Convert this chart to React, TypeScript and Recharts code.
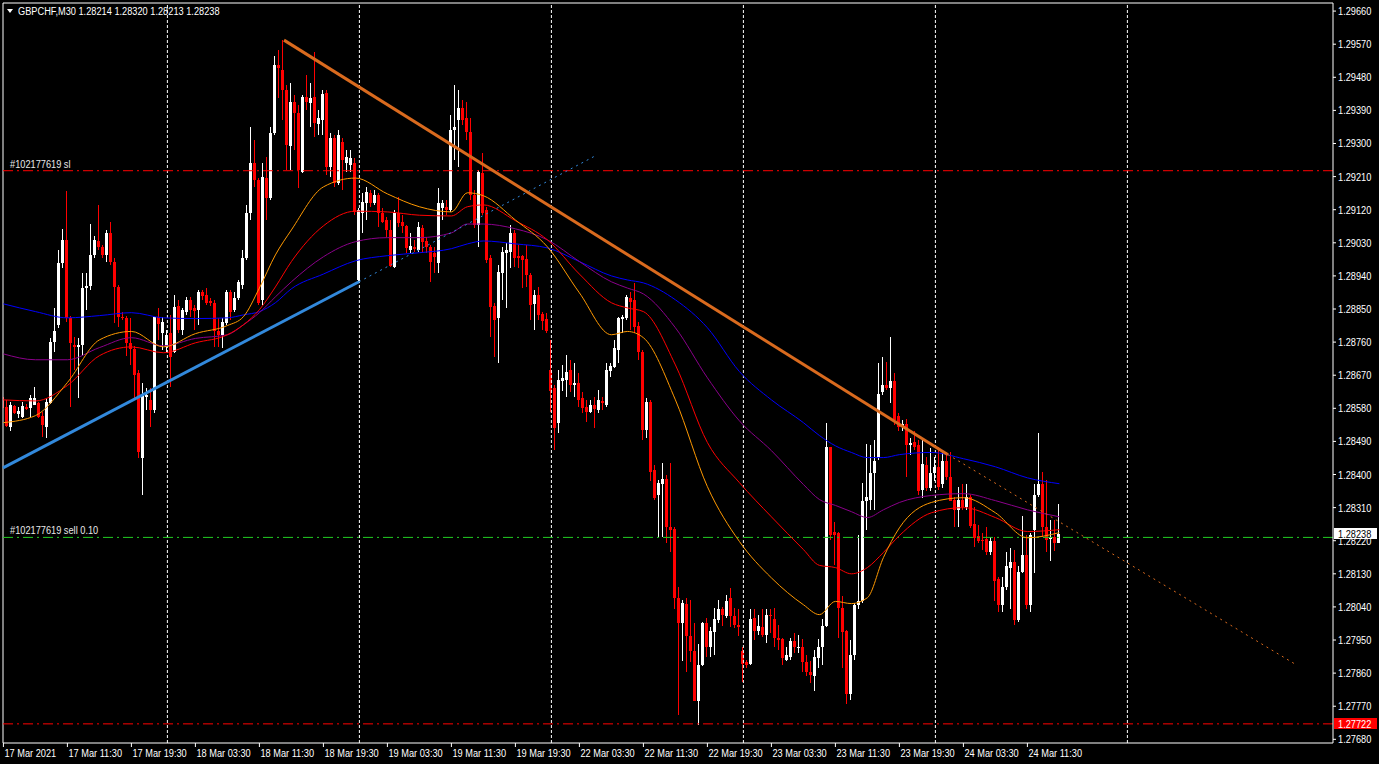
import { Bar, ComposedChart, Line, ReferenceLine, XAxis, YAxis } from 'recharts';

const FONT = '"Liberation Sans", Arial, sans-serif';
const SX = 0.84; // horizontal squeeze to mimic the narrow terminal font

// GBPCHF M30, bar 0 = 17 Mar 03:30, bar 264 = 24 Mar 15:30
const openPrices = [
  1.28612, 1.28584, 1.28530, 1.28587, 1.28565, 1.28557, 1.28584, 1.28581, 1.28589, 1.28595,
  1.28560, 1.28530, 1.28595, 1.28761, 1.28807, 1.28976, 1.29038, 1.28826, 1.28752, 1.28747,
  1.28752, 1.28907, 1.28913, 1.28997, 1.29035, 1.29019, 1.28997, 1.29057, 1.28979, 1.28910,
  1.28829, 1.28826, 1.28758, 1.28742, 1.28677, 1.28446, 1.28612, 1.28603, 1.28576, 1.28829,
  1.28786, 1.28747, 1.28786, 1.28734, 1.28859, 1.28794, 1.28843, 1.28875, 1.28853, 1.28848,
  1.28897, 1.28888, 1.28872, 1.28867, 1.28791, 1.28780, 1.28813, 1.28897, 1.28848, 1.28880,
  1.28915, 1.28989, 1.29111, 1.29247, 1.29201, 1.28875, 1.29206, 1.29152, 1.29329, 1.29513,
  1.29500, 1.29445, 1.29294, 1.29413, 1.29383, 1.29223, 1.29426, 1.29410, 1.29426, 1.29353,
  1.29364, 1.29437, 1.29236, 1.29315, 1.29193, 1.29305, 1.29247, 1.29241, 1.29247, 1.28929,
  1.29111, 1.29139, 1.29166, 1.29139, 1.29160, 1.29111, 1.29092, 1.29065, 1.28965, 1.29111,
  1.29087, 1.29076, 1.29011, 1.29019, 1.29011, 1.29070, 1.29035, 1.29019, 1.29003, 1.28976,
  1.29125, 1.29128, 1.29119, 1.29337, 1.29364, 1.29396, 1.29369, 1.29332, 1.29160, 1.29079,
  1.29220, 1.29119, 1.28989, 1.28859, 1.28826, 1.28948, 1.29003, 1.29006, 1.29057, 1.28995,
  1.28995, 1.28987, 1.28942, 1.28864, 1.28888, 1.28837, 1.28824, 1.28685, 1.28636, 1.28541,
  1.28653, 1.28658, 1.28685, 1.28644, 1.28650, 1.28609, 1.28584, 1.28571, 1.28589, 1.28576,
  1.28600, 1.28589, 1.28682, 1.28693, 1.28739, 1.28824, 1.28826, 1.28880, 1.28875, 1.28805,
  1.28734, 1.28522, 1.28598, 1.28413, 1.28343, 1.28373, 1.28389, 1.28258, 1.28253, 1.28065,
  1.27997, 1.28049, 1.27962, 1.27919, 1.27783, 1.27883, 1.27997, 1.27932, 1.27973, 1.28005,
  1.28035, 1.28016, 1.28063, 1.28014, 1.27992, 1.27921, 1.27889, 1.27886, 1.28011, 1.27975,
  1.27986, 1.27964, 1.28019, 1.28008, 1.27956, 1.27954, 1.27897, 1.27905, 1.27946, 1.27930,
  1.27932, 1.27889, 1.27862, 1.27851, 1.27902, 1.27932, 1.27989, 1.28476, 1.28245, 1.28242,
  1.28038, 1.27975, 1.27802, 1.27908, 1.28044, 1.28055, 1.28327, 1.28332, 1.28403, 1.28446,
  1.28625, 1.28644, 1.28636, 1.28653, 1.28560, 1.28530, 1.28538, 1.28481, 1.28489, 1.28481,
  1.28359, 1.28427, 1.28364, 1.28403, 1.28421, 1.28373, 1.28438, 1.28394, 1.28332, 1.28304,
  1.28332, 1.28313, 1.28340, 1.28266, 1.28234, 1.28223, 1.28226, 1.28188, 1.28220, 1.28117,
  1.28044, 1.28095, 1.28147, 1.28161, 1.28005, 1.28136, 1.28182, 1.28046, 1.28250, 1.28343,
  1.28373, 1.28258, 1.28226, 1.28231, 1.28214,
];

const highPrices = [
  1.28677, 1.28603, 1.28598, 1.28589, 1.28584, 1.28598, 1.28592, 1.28615, 1.28639, 1.28598,
  1.28571, 1.28607, 1.28770, 1.28853, 1.29011, 1.29068, 1.29171, 1.28832, 1.28775, 1.28772,
  1.28948, 1.28948, 1.29081, 1.29049, 1.29133, 1.29024, 1.29065, 1.29087, 1.28989, 1.28915,
  1.28843, 1.28832, 1.28826, 1.28750, 1.28685, 1.28650, 1.28636, 1.28636, 1.28829, 1.28853,
  1.28829, 1.28794, 1.28834, 1.28888, 1.28875, 1.28853, 1.28883, 1.28883, 1.28861, 1.28902,
  1.28902, 1.28907, 1.28880, 1.28875, 1.28826, 1.28826, 1.28902, 1.28902, 1.28897, 1.28929,
  1.29011, 1.29133, 1.29345, 1.29310, 1.29206, 1.29247, 1.29263, 1.29345, 1.29538, 1.29554,
  1.29581, 1.29459, 1.29465, 1.29431, 1.29404, 1.29431, 1.29486, 1.29465, 1.29549, 1.29391,
  1.29445, 1.29445, 1.29329, 1.29323, 1.29337, 1.29315, 1.29282, 1.29282, 1.29260, 1.29125,
  1.29166, 1.29182, 1.29174, 1.29174, 1.29166, 1.29125, 1.29100, 1.29092, 1.29119, 1.29155,
  1.29105, 1.29079, 1.29057, 1.29038, 1.29087, 1.29079, 1.29046, 1.29024, 1.29019, 1.29179,
  1.29147, 1.29147, 1.29377, 1.29459, 1.29445, 1.29418, 1.29413, 1.29369, 1.29174, 1.29228,
  1.29274, 1.29128, 1.28997, 1.28867, 1.28970, 1.29019, 1.29030, 1.29079, 1.29065, 1.29024,
  1.28997, 1.29024, 1.28948, 1.28902, 1.28910, 1.28843, 1.28840, 1.28766, 1.28644, 1.28685,
  1.28698, 1.28725, 1.28712, 1.28704, 1.28677, 1.28623, 1.28603, 1.28603, 1.28612, 1.28631,
  1.28612, 1.28704, 1.28704, 1.28766, 1.28829, 1.28834, 1.28888, 1.28897, 1.28921, 1.28816,
  1.28739, 1.28609, 1.28603, 1.28427, 1.28386, 1.28432, 1.28400, 1.28432, 1.28258, 1.28095,
  1.28060, 1.28065, 1.28060, 1.27997, 1.27938, 1.28000, 1.28011, 1.27986, 1.28038, 1.28060,
  1.28041, 1.28073, 1.28092, 1.28038, 1.28033, 1.27932, 1.27897, 1.28035, 1.28033, 1.28019,
  1.28035, 1.28033, 1.28033, 1.28038, 1.27992, 1.27956, 1.27932, 1.27956, 1.27970, 1.27964,
  1.27954, 1.27910, 1.27892, 1.27924, 1.27954, 1.28008, 1.28541, 1.28476, 1.28272, 1.28245,
  1.28071, 1.27978, 1.27951, 1.28052, 1.28236, 1.28378, 1.28484, 1.28481, 1.28495, 1.28704,
  1.28720, 1.28706, 1.28775, 1.28677, 1.28568, 1.28549, 1.28552, 1.28500, 1.28517, 1.28495,
  1.28495, 1.28448, 1.28473, 1.28448, 1.28476, 1.28462, 1.28460, 1.28460, 1.28340, 1.28367,
  1.28373, 1.28373, 1.28345, 1.28313, 1.28264, 1.28242, 1.28258, 1.28231, 1.28231, 1.28122,
  1.28122, 1.28188, 1.28199, 1.28196, 1.28150, 1.28288, 1.28236, 1.28242, 1.28373, 1.28514,
  1.28408, 1.28386, 1.28277, 1.28277, 1.28320,
];

const lowPrices = [
  1.28576, 1.28530, 1.28519, 1.28565, 1.28554, 1.28554, 1.28576, 1.28557, 1.28589, 1.28554,
  1.28503, 1.28500, 1.28592, 1.28734, 1.28799, 1.28962, 1.28816, 1.28584, 1.28685, 1.28609,
  1.28725, 1.28848, 1.28902, 1.28989, 1.29011, 1.28989, 1.28979, 1.28970, 1.28813, 1.28802,
  1.28821, 1.28723, 1.28698, 1.28609, 1.28446, 1.28345, 1.28576, 1.28530, 1.28568, 1.28766,
  1.28739, 1.28734, 1.28639, 1.28731, 1.28786, 1.28780, 1.28834, 1.28829, 1.28794, 1.28807,
  1.28875, 1.28861, 1.28859, 1.28747, 1.28747, 1.28744, 1.28807, 1.28821, 1.28843, 1.28875,
  1.28905, 1.28984, 1.29092, 1.29182, 1.28861, 1.28861, 1.29092, 1.29147, 1.29323, 1.29423,
  1.29364, 1.29228, 1.29228, 1.29282, 1.29179, 1.29220, 1.29391, 1.29345, 1.29318, 1.29323,
  1.29323, 1.29214, 1.29209, 1.29182, 1.29187, 1.29174, 1.29223, 1.29223, 1.29105, 1.28921,
  1.29057, 1.29092, 1.29128, 1.29133, 1.29073, 1.29084, 1.29046, 1.28965, 1.28962, 1.29073,
  1.29057, 1.29003, 1.29003, 1.29006, 1.29006, 1.29003, 1.29003, 1.28924, 1.28948, 1.28948,
  1.29092, 1.29105, 1.29114, 1.29255, 1.29236, 1.29350, 1.29310, 1.29147, 1.29070, 1.29019,
  1.29105, 1.28976, 1.28775, 1.28720, 1.28704, 1.28875, 1.28853, 1.28962, 1.28965, 1.28962,
  1.28907, 1.28910, 1.28821, 1.28794, 1.28821, 1.28794, 1.28786, 1.28571, 1.28468, 1.28514,
  1.28626, 1.28612, 1.28623, 1.28612, 1.28584, 1.28568, 1.28544, 1.28568, 1.28527, 1.28568,
  1.28576, 1.28584, 1.28666, 1.28690, 1.28704, 1.28786, 1.28821, 1.28794, 1.28786, 1.28712,
  1.28495, 1.28500, 1.28381, 1.28332, 1.28231, 1.28231, 1.28215, 1.28188, 1.28033, 1.27747,
  1.27892, 1.27862, 1.27889, 1.27783, 1.27720, 1.27878, 1.27903, 1.27905, 1.27910, 1.27997,
  1.27989, 1.28011, 1.27986, 1.27984, 1.27962, 1.27837, 1.27875, 1.27881, 1.27951, 1.27964,
  1.27959, 1.27943, 1.27970, 1.27932, 1.27924, 1.27881, 1.27892, 1.27897, 1.27916, 1.27916,
  1.27862, 1.27851, 1.27834, 1.27812, 1.27875, 1.27883, 1.27986, 1.28223, 1.28155, 1.27956,
  1.27875, 1.27777, 1.27788, 1.27897, 1.28033, 1.28052, 1.28250, 1.28304, 1.28304, 1.28440,
  1.28617, 1.28631, 1.28595, 1.28535, 1.28517, 1.28517, 1.28394, 1.28454, 1.28468, 1.28345,
  1.28337, 1.28354, 1.28354, 1.28381, 1.28359, 1.28364, 1.28386, 1.28327, 1.28258, 1.28258,
  1.28304, 1.28304, 1.28255, 1.28204, 1.28215, 1.28196, 1.28182, 1.28180, 1.28055, 1.28027,
  1.28027, 1.28087, 1.28033, 1.27992, 1.28000, 1.28131, 1.28033, 1.28025, 1.28133, 1.28340,
  1.28231, 1.28188, 1.28166, 1.28191, 1.28213,
];

const closePrices = [
  1.28581, 1.28533, 1.28589, 1.28568, 1.28573, 1.28587, 1.28579, 1.28609, 1.28607, 1.28557,
  1.28535, 1.28598, 1.28761, 1.28789, 1.28976, 1.29038, 1.28826, 1.28758, 1.28747, 1.28752,
  1.28907, 1.28913, 1.28997, 1.29038, 1.29019, 1.28997, 1.29057, 1.28979, 1.28910, 1.28829,
  1.28826, 1.28758, 1.28742, 1.28671, 1.28460, 1.28617, 1.28617, 1.28576, 1.28829, 1.28810,
  1.28816, 1.28780, 1.28720, 1.28856, 1.28794, 1.28848, 1.28875, 1.28848, 1.28845, 1.28897,
  1.28886, 1.28867, 1.28867, 1.28791, 1.28780, 1.28816, 1.28897, 1.28843, 1.28880, 1.28924,
  1.28989, 1.29111, 1.29247, 1.29201, 1.28867, 1.29209, 1.29152, 1.29329, 1.29513, 1.29505,
  1.29445, 1.29296, 1.29413, 1.29383, 1.29228, 1.29426, 1.29413, 1.29423, 1.29356, 1.29369,
  1.29434, 1.29236, 1.29315, 1.29193, 1.29323, 1.29255, 1.29263, 1.29260, 1.29114, 1.29119,
  1.29142, 1.29169, 1.29139, 1.29160, 1.29111, 1.29087, 1.29065, 1.28968, 1.29111, 1.29084,
  1.29076, 1.29016, 1.29022, 1.29014, 1.29073, 1.29033, 1.29019, 1.28979, 1.28992, 1.29139,
  1.29139, 1.29119, 1.29337, 1.29345, 1.29396, 1.29364, 1.29332, 1.29160, 1.29079, 1.29223,
  1.29111, 1.28984, 1.28856, 1.28821, 1.28951, 1.29006, 1.29011, 1.29057, 1.28989, 1.28989,
  1.28984, 1.28942, 1.28861, 1.28888, 1.28834, 1.28818, 1.28789, 1.28626, 1.28527, 1.28658,
  1.28663, 1.28680, 1.28644, 1.28650, 1.28603, 1.28581, 1.28571, 1.28589, 1.28579, 1.28603,
  1.28595, 1.28685, 1.28696, 1.28745, 1.28826, 1.28829, 1.28883, 1.28870, 1.28802, 1.28734,
  1.28522, 1.28598, 1.28408, 1.28337, 1.28378, 1.28389, 1.28258, 1.28250, 1.28063, 1.27997,
  1.28052, 1.27962, 1.27919, 1.27783, 1.27883, 1.27997, 1.27932, 1.27975, 1.28008, 1.28035,
  1.28019, 1.28057, 1.28014, 1.27992, 1.27986, 1.27886, 1.27881, 1.28008, 1.27975, 1.27989,
  1.27964, 1.28019, 1.28014, 1.27956, 1.27951, 1.27900, 1.27908, 1.27948, 1.27932, 1.27932,
  1.27889, 1.27862, 1.27856, 1.27905, 1.27932, 1.27989, 1.28476, 1.28236, 1.28236, 1.28038,
  1.27973, 1.27802, 1.27908, 1.28044, 1.28055, 1.28329, 1.28340, 1.28403, 1.28438, 1.28620,
  1.28644, 1.28636, 1.28653, 1.28549, 1.28530, 1.28538, 1.28481, 1.28487, 1.28476, 1.28356,
  1.28429, 1.28364, 1.28403, 1.28421, 1.28367, 1.28438, 1.28394, 1.28329, 1.28304, 1.28332,
  1.28313, 1.28340, 1.28261, 1.28228, 1.28218, 1.28218, 1.28188, 1.28220, 1.28111, 1.28044,
  1.28095, 1.28150, 1.28161, 1.28005, 1.28136, 1.28180, 1.28046, 1.28236, 1.28345, 1.28375,
  1.28258, 1.28223, 1.28231, 1.28215, 1.28238,
];

// one label every 16 bars
const timeLabels = [
  '17 Mar 2021', '17 Mar 11:30', '17 Mar 19:30', '18 Mar 03:30', '18 Mar 11:30',
  '18 Mar 19:30', '19 Mar 03:30', '19 Mar 11:30', '19 Mar 19:30', '22 Mar 03:30',
  '22 Mar 11:30', '22 Mar 19:30', '23 Mar 03:30', '23 Mar 11:30', '23 Mar 19:30',
  '24 Mar 03:30', '24 Mar 11:30',
];

const priceTicks = [
  1.2768, 1.2777, 1.2786, 1.2795, 1.2804, 1.2813, 1.2822, 1.2831, 1.284, 1.2849, 1.2858, 1.2867,
  1.2876, 1.2885, 1.2894, 1.2903, 1.2912, 1.2921, 1.293, 1.2939, 1.2948, 1.2957, 1.2966,
];

// moving averages at these bars
const maBars = [
  0, 8, 16, 24, 32, 40, 48, 56, 60, 64, 68, 72, 80, 88, 96, 104, 112, 116, 120, 128, 136,
  144, 152, 156, 160, 168, 176, 184, 192, 200, 204, 208, 212, 216, 220, 224, 232, 240, 248, 256, 264,
];
const maOrange = [
  1.28541, 1.28560, 1.28650, 1.28766, 1.28789, 1.28747, 1.28783, 1.28805, 1.28829, 1.28907, 1.28997,
  1.29065, 1.29182, 1.29206, 1.29163, 1.29128, 1.29114, 1.29166, 1.29158, 1.29092, 1.29019,
  1.28894, 1.28780, 1.28789, 1.28772, 1.28603, 1.28367, 1.28218, 1.28119, 1.28046, 1.28019,
  1.28055, 1.28049, 1.28065, 1.28174, 1.28255, 1.28324, 1.28337, 1.28296, 1.28228, 1.28242,
];
const maRed = [
  1.28603, 1.28600, 1.28642, 1.28723, 1.28747, 1.28731, 1.28758, 1.28780, 1.28807, 1.28848, 1.28910,
  1.28979, 1.29076, 1.29116, 1.29114, 1.29105, 1.29103, 1.29128, 1.29133, 1.29090, 1.29038,
  1.28945, 1.28867, 1.28853, 1.28843, 1.28698, 1.28487, 1.28378, 1.28285, 1.28196, 1.28153,
  1.28147, 1.28130, 1.28147, 1.28188, 1.28234, 1.28296, 1.28310, 1.28283, 1.28245, 1.28250,
];
const maPurple = [
  1.28728, 1.28712, 1.28712, 1.28745, 1.28772, 1.28750, 1.28770, 1.28780, 1.28807, 1.28840, 1.28883,
  1.28924, 1.28992, 1.29033, 1.29044, 1.29044, 1.29057, 1.29081, 1.29081, 1.29068, 1.29038,
  1.28979, 1.28924, 1.28907, 1.28891, 1.28799, 1.28663, 1.28546, 1.28465, 1.28373, 1.28332,
  1.28316, 1.28299, 1.28283, 1.28304, 1.28324, 1.28343, 1.28348, 1.28329, 1.28304, 1.28285,
];
const maBlue = [
  1.28864, 1.28843, 1.28826, 1.28832, 1.28840, 1.28826, 1.28824, 1.28826, 1.28834, 1.28843, 1.28867,
  1.28905, 1.28945, 1.28981, 1.28995, 1.29003, 1.29014, 1.29027, 1.29035, 1.29027, 1.29016,
  1.28979, 1.28940, 1.28929, 1.28921, 1.28875, 1.28799, 1.28680, 1.28603, 1.28541, 1.28506,
  1.28478, 1.28460, 1.28446, 1.28446, 1.28454, 1.28460, 1.28443, 1.28421, 1.28391, 1.28375,
];

// bars where a new day starts (vertical grid)
const dayStarts = [41, 89, 137, 185, 233, 281];

// drawn objects, as [bar, price]
const orangeTrend = [[70.15, 1.29581], [236.15, 1.28454]];
const orangeRay = [[236.15, 1.28454], [323.15, 1.27883]];
const blueTrend = [[-0.1, 1.28418], [88.9, 1.28924]];
const blueRay = [[88.9, 1.28924], [148.4, 1.29269]];

const slPrice = 1.29226;
const entryPrice = 1.28229;
const bidPrice = 1.28238;
const lowLinePrice = 1.27722;

const X_MIN = -0.1;
const X_MAX = 332.4;
const Y_MIN = 1.2767;
const Y_MAX = 1.29682;

const CHART_W = 1379;
const CHART_H = 764;
const MARGIN = { top: 3, right: 0, bottom: 0, left: 3 };
const X_AXIS_H = 21;
const Y_AXIS_W = 46;
const PLOT_TOP = MARGIN.top;
const PLOT_BOTTOM = CHART_H - X_AXIS_H;
const PLOT_RIGHT = CHART_W - Y_AXIS_W;

const candles = openPrices.map((o, i) => ({
  i,
  o,
  h: highPrices[i],
  l: lowPrices[i],
  c: closePrices[i],
  range: [lowPrices[i], highPrices[i]],
}));

const maData = maBars.map((i, k) => ({
  i,
  orange: maOrange[k],
  red: maRed[k],
  purple: maPurple[k],
  blue: maBlue[k],
}));

const last = candles.length - 1;
const headerText = `GBPCHF,M30  ${openPrices[last].toFixed(5)} ${highPrices[last].toFixed(5)} ${lowPrices[last].toFixed(5)} ${closePrices[last].toFixed(5)}`;

const seg = (pts: number[][]) => pts.map(([x, y]) => ({ x, y }));

// same linear price scale as the YAxis, for the overlay price boxes
const priceToY = (p: number) =>
  PLOT_TOP + ((Y_MAX - p) / (Y_MAX - Y_MIN)) * (PLOT_BOTTOM - PLOT_TOP);

function Candle(props: any) {
  const { x, y, width, height, payload } = props;
  if (!payload || payload.h === payload.l) return null;
  const { o, h, l, c } = payload;
  const top = Math.min(y, y + height);
  const span = Math.abs(height);
  const k = span / (h - l);
  const py = (p: number) => top + (h - p) * k;
  const cx = x + width / 2;
  const color = c >= o ? '#FFFFFF' : '#FF0000';
  const bodyTop = py(Math.max(o, c));
  const bodyBottom = py(Math.min(o, c));
  return (
    <g shapeRendering="crispEdges">
      <rect x={Math.round(cx - 0.5)} y={top} width={1} height={Math.max(1, span)} fill={color} />
      <rect
        x={Math.round(cx - 1.5)}
        y={bodyTop}
        width={3}
        height={Math.max(1, bodyBottom - bodyTop)}
        fill={color}
      />
    </g>
  );
}

function SqText({ x, y, fill, children }: any) {
  return (
    <text
      transform={`translate(${x},${y}) scale(${SX},1)`}
      fill={fill}
      fontSize={11}
      fontFamily={FONT}
    >
      {children}
    </text>
  );
}

function TimeTick({ x, y, payload }: any) {
  return (
    <SqText x={x + 1} y={y + 8} fill="#FFFFFF">
      {timeLabels[Math.round(payload.value / 16)]}
    </SqText>
  );
}

function PriceTick({ x, y, payload }: any) {
  return (
    <SqText x={x} y={y + 4} fill="#FFFFFF">
      {Number(payload.value).toFixed(5)}
    </SqText>
  );
}

function LineTag({ viewBox, text }: any) {
  if (!viewBox) return null;
  return (
    <SqText x={viewBox.x + 7} y={viewBox.y - 3} fill="#E8E8E8">
      {text}
    </SqText>
  );
}

function PriceBox({ price, bg, fg }: { price: number; bg: string; fg: string }) {
  const y = priceToY(price);
  return (
    <g>
      <rect x={PLOT_RIGHT + 1} y={Math.round(y) - 6} width={43} height={11} fill={bg} />
      <SqText x={PLOT_RIGHT + 5} y={Math.round(y) + 4} fill={fg}>
        {price.toFixed(5)}
      </SqText>
    </g>
  );
}

export default function App() {
  return (
    <div style={{ position: 'relative', width: CHART_W, height: CHART_H, background: '#000000', overflow: 'hidden' }}>
      <style>{'body{margin:0;background:#000;}'}</style>
      <ComposedChart width={CHART_W} height={CHART_H} data={candles} margin={MARGIN}>
        <XAxis
          dataKey="i"
          type="number"
          domain={[X_MIN, X_MAX]}
          allowDataOverflow
          ticks={timeLabels.map((_, k) => k * 16)}
          interval={0}
          height={X_AXIS_H}
          tickSize={4}
          axisLine={{ stroke: '#FFFFFF' }}
          tickLine={{ stroke: '#FFFFFF' }}
          tick={<TimeTick />}
        />
        <YAxis
          orientation="right"
          type="number"
          domain={[Y_MIN, Y_MAX]}
          allowDataOverflow
          ticks={priceTicks}
          interval={0}
          width={Y_AXIS_W}
          tickSize={3}
          axisLine={{ stroke: '#FFFFFF' }}
          tickLine={{ stroke: '#FFFFFF' }}
          tick={<PriceTick />}
        />

        <ReferenceLine y={Y_MAX} stroke="#FFFFFF" />
        <ReferenceLine x={X_MIN} stroke="#FFFFFF" />
        {dayStarts.map((d) => (
          <ReferenceLine key={d} x={d} stroke="#FFFFFF" strokeDasharray="3 2" />
        ))}

        <ReferenceLine
          y={slPrice}
          stroke="#FF0000"
          strokeDasharray="10 4 2 4"
          label={<LineTag text="#102177619 sl" />}
        />
        <ReferenceLine
          y={entryPrice}
          stroke="#22CC22"
          strokeDasharray="10 4 2 4"
          label={<LineTag text="#102177619 sell 0.10" />}
        />
        <ReferenceLine y={lowLinePrice} stroke="#FF0000" strokeDasharray="10 4 2 4" />

        <Line data={maData} dataKey="blue" type="monotone" stroke="#0000FF" strokeWidth={1} dot={false} isAnimationActive={false} />
        <Line data={maData} dataKey="purple" type="monotone" stroke="#8B008B" strokeWidth={1} dot={false} isAnimationActive={false} />
        <Line data={maData} dataKey="red" type="monotone" stroke="#FF0000" strokeWidth={1} dot={false} isAnimationActive={false} />
        <Line data={maData} dataKey="orange" type="monotone" stroke="#FF9900" strokeWidth={1} dot={false} isAnimationActive={false} />

        <ReferenceLine segment={seg(blueTrend)} stroke="#3289DC" strokeWidth={3} />
        <ReferenceLine segment={seg(blueRay)} stroke="#3289DC" strokeWidth={1} strokeDasharray="2 4" />

        <Bar dataKey="range" barSize={3} shape={<Candle />} isAnimationActive={false} />

        <ReferenceLine segment={seg(orangeTrend)} stroke="#D96A1E" strokeWidth={3} />
        <ReferenceLine segment={seg(orangeRay)} stroke="#D96A1E" strokeWidth={1} strokeDasharray="2 4" />
      </ComposedChart>

      <svg
        width={CHART_W}
        height={CHART_H}
        style={{ position: 'absolute', left: 0, top: 0, pointerEvents: 'none' }}
      >
        <PriceBox price={bidPrice} bg="#FFFFFF" fg="#000000" />
        <PriceBox price={lowLinePrice} bg="#FF0000" fg="#FFFFFF" />
        <polygon points="7,9 13,9 10,13" fill="#FFFFFF" />
        <SqText x={18} y={15} fill="#FFFFFF">
          {headerText}
        </SqText>
      </svg>
    </div>
  );
}
